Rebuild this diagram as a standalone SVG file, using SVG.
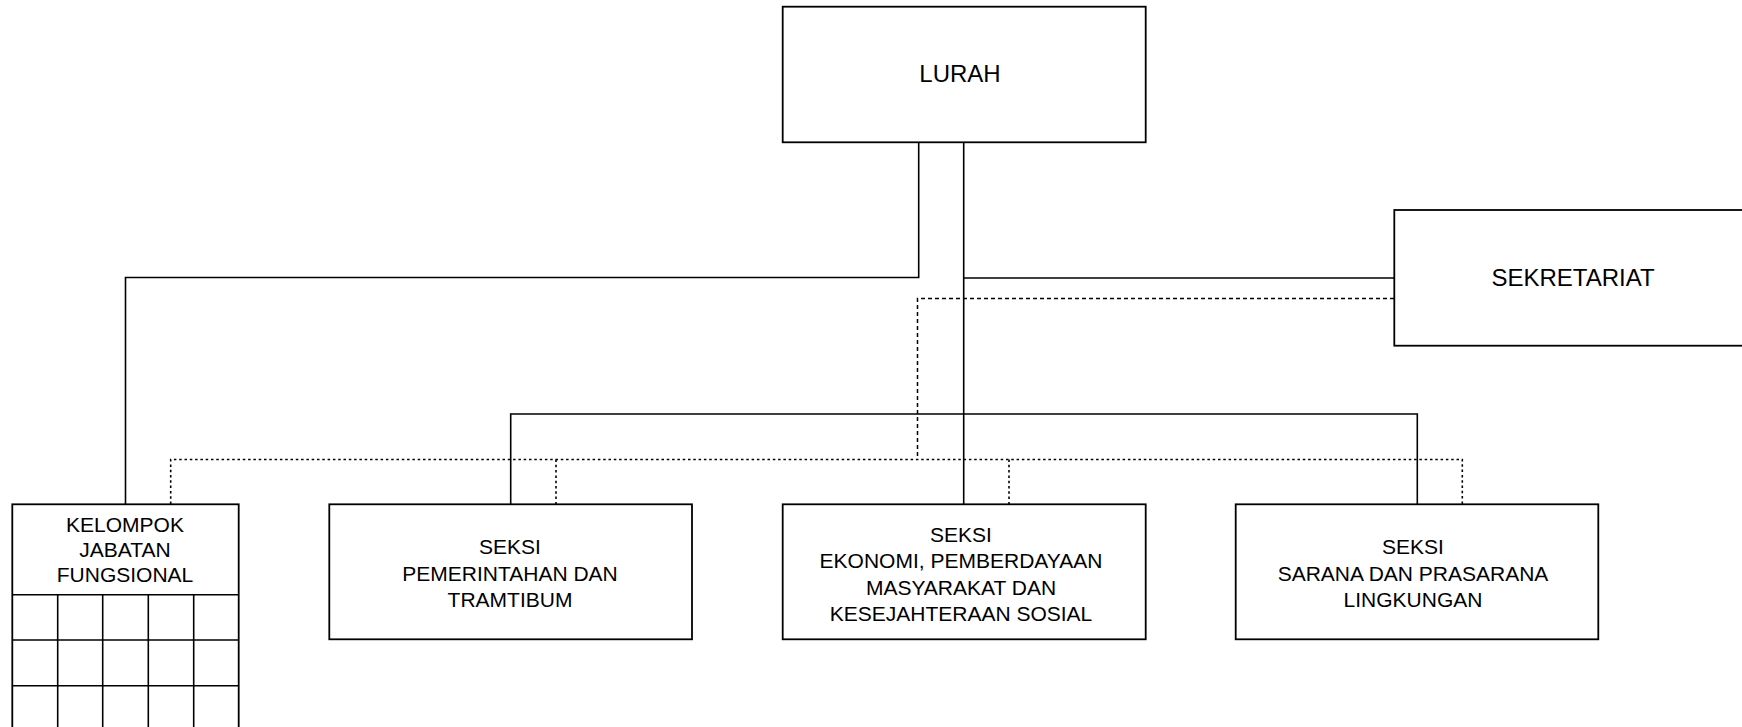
<svg xmlns="http://www.w3.org/2000/svg" width="1742" height="727" viewBox="0 0 1742 727">
<style>
.box{fill:#fff;stroke:#000;stroke-width:1.8}
.ln{fill:none;stroke:#000;stroke-width:1.6}
.dash1{fill:none;stroke:#000;stroke-width:1.5;stroke-dasharray:4 3}
.dash2{fill:none;stroke:#000;stroke-width:1.6;stroke-dasharray:2.5 2.8}
.big{font-family:"Liberation Sans",Arial,sans-serif;font-size:24px;text-anchor:middle;fill:#000}
.t{font-family:"Liberation Sans",Arial,sans-serif;font-size:21px;text-anchor:middle;fill:#000}
</style>
<rect width="1742" height="727" fill="#fff"/>
<g id="connectors">
<polyline class="ln" points="918.7,142 918.7,277.5 125.5,277.5 125.5,504"/>
<line class="ln" x1="963.7" y1="142" x2="963.7" y2="504"/>
<line class="ln" x1="963.7" y1="278" x2="1394" y2="278"/>
<polyline class="ln" points="510.7,504 510.7,414 1417.3,414 1417.3,504"/>
<polyline class="dash1" points="1394,298.5 917.5,298.5 917.5,459.5"/>
<polyline class="dash2" points="170.7,504 170.7,459.5 1462.3,459.5 1462.3,504"/>
<line class="dash2" x1="556" y1="459.5" x2="556" y2="504"/>
<line class="dash2" x1="1009" y1="459.5" x2="1009" y2="504"/>
</g>
<g id="lurah">
<rect class="box" x="782.7" y="6.7" width="363" height="135.6"/>
<text class="big" x="960" y="82.3">LURAH</text>
</g>
<g id="sekretariat">
<rect class="box" x="1394.3" y="210" width="363" height="135.7"/>
<text class="big" x="1573" y="286.3">SEKRETARIAT</text>
</g>
<g id="kelompok">
<rect class="box" x="12.3" y="504.3" width="226.4" height="240"/>
<line class="ln" x1="12.3" y1="594.7" x2="238.7" y2="594.7"/>
<line class="ln" x1="12.3" y1="640" x2="238.7" y2="640"/>
<line class="ln" x1="12.3" y1="685.7" x2="238.7" y2="685.7"/>
<line class="ln" x1="57.7" y1="594.7" x2="57.7" y2="727"/>
<line class="ln" x1="102.7" y1="594.7" x2="102.7" y2="727"/>
<line class="ln" x1="148.3" y1="594.7" x2="148.3" y2="727"/>
<line class="ln" x1="193.7" y1="594.7" x2="193.7" y2="727"/>
<text class="t" x="125" y="531.7">KELOMPOK</text>
<text class="t" x="125" y="557.3">JABATAN</text>
<text class="t" x="125" y="582.3">FUNGSIONAL</text>
</g>
<g id="seksi-pemerintahan">
<rect class="box" x="329.3" y="504.3" width="362.7" height="135"/>
<text class="t" x="510" y="554">SEKSI</text>
<text class="t" x="510" y="581">PEMERINTAHAN DAN</text>
<text class="t" x="510" y="606.5">TRAMTIBUM</text>
</g>
<g id="seksi-ekonomi">
<rect class="box" x="782.7" y="504.3" width="363" height="135"/>
<text class="t" x="961" y="541.7">SEKSI</text>
<text class="t" x="961" y="568.3">EKONOMI, PEMBERDAYAAN</text>
<text class="t" x="961" y="595">MASYARAKAT DAN</text>
<text class="t" x="961" y="620.5">KESEJAHTERAAN SOSIAL</text>
</g>
<g id="seksi-sarana">
<rect class="box" x="1235.7" y="504.3" width="362.6" height="135"/>
<text class="t" x="1413" y="554">SEKSI</text>
<text class="t" x="1413" y="581">SARANA DAN PRASARANA</text>
<text class="t" x="1413" y="606.5">LINGKUNGAN</text>
</g>
</svg>
